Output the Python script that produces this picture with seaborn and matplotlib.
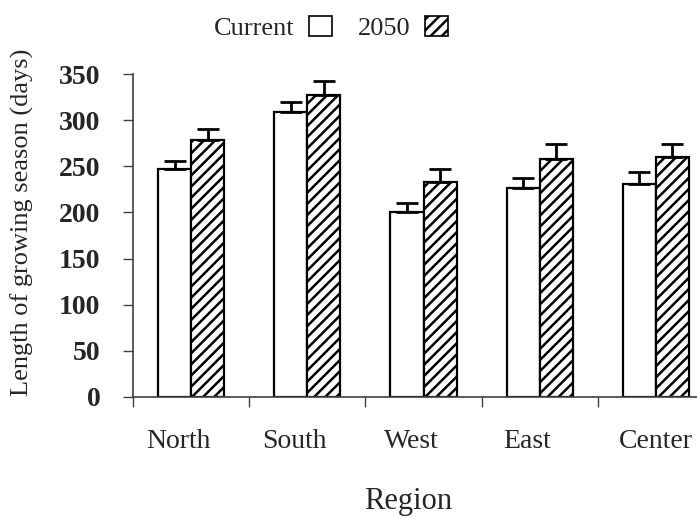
import numpy as np
import pandas as pd
import matplotlib
matplotlib.use("Agg")
import matplotlib.pyplot as plt
import matplotlib.transforms as mtransforms
from matplotlib.patches import Patch
from matplotlib.ticker import FixedLocator
import seaborn as sns

# Growing-season length by region, current climate vs. 2050 projection
regions = ["North", "South", "West", "East", "Center"]
periods = ["Current", "2050"]
current_days = [247, 309, 200, 226, 231]
future_days = [279, 327, 233, 258, 260]
current_err = [9, 11, 10, 11, 13]
future_err = [11, 15, 14, 16, 14]
y_ticks = [0, 50, 100, 150, 200, 250, 300, 350]

df = pd.DataFrame({
    "Region": regions * 2,
    "Period": [periods[0]] * len(regions) + [periods[1]] * len(regions),
    "Days": current_days + future_days,
    "Err": current_err + future_err,
})

sns.set_theme(style="white")
plt.rcParams["font.family"] = ["Liberation Serif", "DejaVu Serif"]
plt.rcParams["hatch.linewidth"] = 1.8
plt.rcParams["hatch.color"] = "black"

fig = plt.figure(figsize=(6.97, 5.17), dpi=100)
ax = fig.add_axes([133 / 697, 120 / 517, 581 / 697, 323 / 517])

sns.barplot(data=df, x="Region", y="Days", hue="Period", order=regions,
            hue_order=periods, palette=["white", "white"], width=0.57,
            edgecolor="black", linewidth=1.6, errorbar=None, legend=False,
            ax=ax)

# hatch the projected bars and add upward-only error bars
n = len(regions)
patches = [p for p in ax.patches][: 2 * n]
for i, p in enumerate(patches):
    grp = i // n
    idx = i % n
    if grp == 1:
        p.set_hatch("///")
    vals = current_days if grp == 0 else future_days
    errs = current_err if grp == 0 else future_err
    xc = p.get_x() + p.get_width() / 2
    ax.errorbar([xc], [vals[idx]], yerr=[[0], [errs[idx]]], fmt="none",
                ecolor="black", elinewidth=2, capsize=8, capthick=2, zorder=3)

ax.set_ylim(0, 350)
ax.set_xlim(-0.5, n - 0.5)
ax.set_yticks(y_ticks)
ax.set_yticklabels([str(t) for t in y_ticks], fontsize=20, fontweight="bold")

# boundary ticks between regions, labels under each region
ax.xaxis.set_major_locator(FixedLocator(np.arange(-0.5, n, 1.0)))
ax.xaxis.set_minor_locator(FixedLocator(np.arange(n)))
ax.set_xticklabels([""] * (n + 1))
ax.set_xticklabels(regions, minor=True, fontsize=20)
ax.tick_params(axis="x", which="major", direction="out", length=7.5,
               width=1, color="#404040", bottom=True)
ax.tick_params(axis="x", which="minor", length=0, pad=23, bottom=True)
ax.tick_params(axis="y", direction="out", length=7.5, width=1,
               color="#404040", pad=16, left=True)

# nudge the inner region labels slightly left
shift = mtransforms.ScaledTranslation(-9 / 72, 0, fig.dpi_scale_trans)
for lbl in ax.get_xticklabels(minor=True)[:-1]:
    lbl.set_transform(lbl.get_transform() + shift)

for side in ["top", "right"]:
    ax.spines[side].set_visible(False)
for side in ["left", "bottom"]:
    ax.spines[side].set_color("#404040")
    ax.spines[side].set_linewidth(1.2)

ax.set_ylabel("Length of growing season (days)", fontsize=19)
ax.yaxis.set_label_coords(-0.170, 0.54)
ax.set_xlabel("Region", fontsize=22)
ax.xaxis.set_label_coords(0.474, -0.278)

handles = [Patch(facecolor="white", edgecolor="black", linewidth=1.2),
           Patch(facecolor="white", edgecolor="black", linewidth=1.2,
                 hatch="///")]
fig.legend(handles, periods, loc="center", bbox_to_anchor=(0.475, 0.946),
           ncol=2, frameon=False, markerfirst=False, fontsize=19,
           handlelength=0.85, handleheight=0.8, handletextpad=0.55,
           columnspacing=1.0)

fig.savefig("out.png", dpi=100)
